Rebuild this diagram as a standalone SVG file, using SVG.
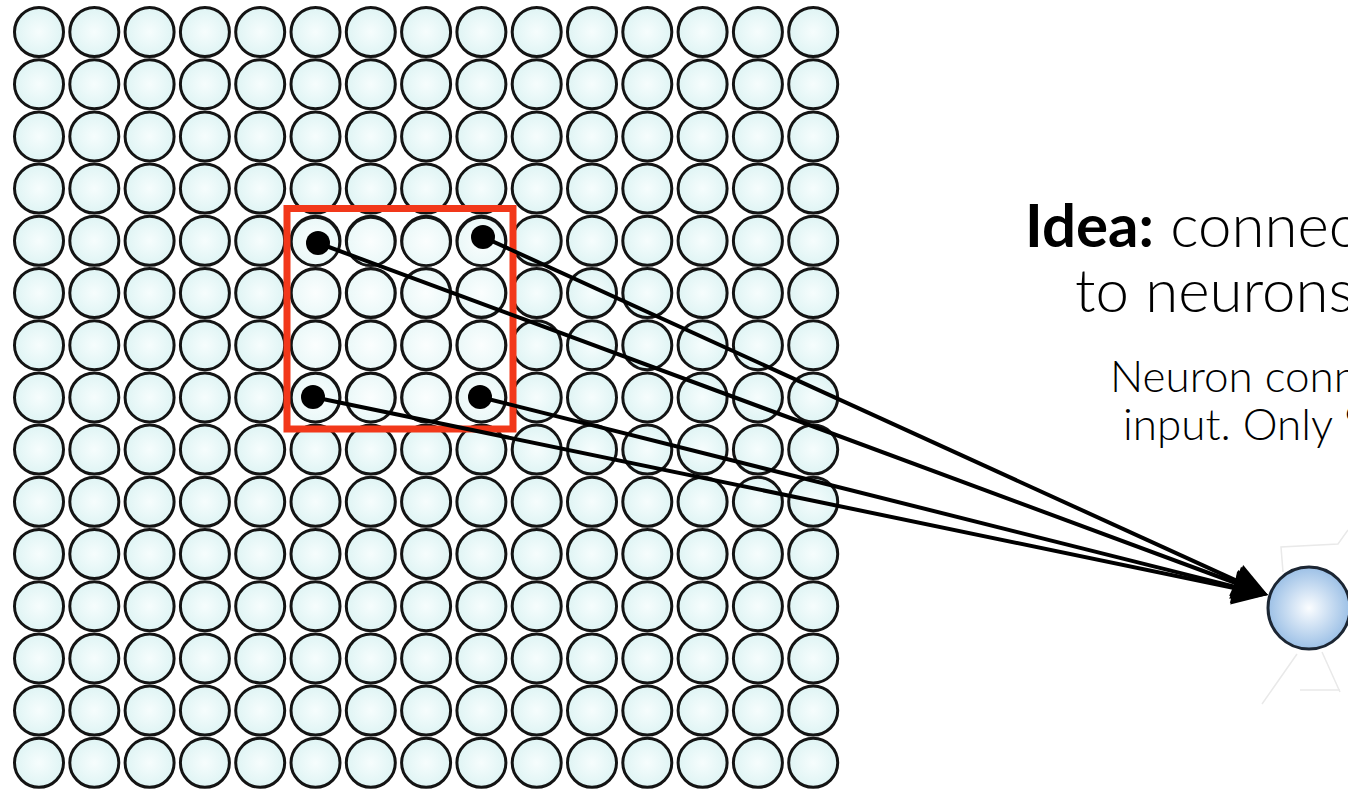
<svg xmlns="http://www.w3.org/2000/svg" xmlns:xlink="http://www.w3.org/1999/xlink" width="1348" height="793" viewBox="0 0 1348 793">
<style>
.cell{fill:url(#cellGrad);stroke:#141414;stroke-width:3}
.inner{fill:url(#innerGrad);stroke:#141414;stroke-width:2.4}
.dot{fill:#000}
.conn{stroke:#000;stroke-width:4;fill:none;marker-end:url(#arrow)}
.big{font-family:Lato,"Open Sans","Liberation Sans",sans-serif;font-size:60px;font-weight:300;fill:#000}
.small{font-family:Lato,"Open Sans","Liberation Sans",sans-serif;font-size:44px;font-weight:300;fill:#000}
.faint{fill:none;stroke:#e9e9e9;stroke-width:1.5}
</style>
<defs>
<radialGradient id="cellGrad" cx="0.5" cy="0.5" r="0.5">
<stop offset="0" stop-color="#f6fdfd"/>
<stop offset="1" stop-color="#dff4f4"/>
</radialGradient>
<radialGradient id="innerGrad" cx="0.5" cy="0.5" r="0.5">
<stop offset="0" stop-color="#fbfefe"/>
<stop offset="1" stop-color="#eaf8f8"/>
</radialGradient>
<radialGradient id="neuronGrad" cx="0.5" cy="0.5" r="0.5">
<stop offset="0" stop-color="#fbfdff"/>
<stop offset="1" stop-color="#9cc0e6"/>
</radialGradient>
<marker id="arrow" markerUnits="userSpaceOnUse" markerWidth="36" markerHeight="36" refX="25" refY="17" orient="auto" overflow="visible">
<path d="M0,0 L35,17 L0,34 Z" fill="#000"/>
</marker>
<g id="row">
<circle class="cell" cx="39" cy="0" r="24.5"/>
<circle class="cell" cx="94.3" cy="0" r="24.5"/>
<circle class="cell" cx="149.6" cy="0" r="24.5"/>
<circle class="cell" cx="204.9" cy="0" r="24.5"/>
<circle class="cell" cx="260.2" cy="0" r="24.5"/>
<circle class="cell" cx="315.5" cy="0" r="24.5"/>
<circle class="cell" cx="370.8" cy="0" r="24.5"/>
<circle class="cell" cx="426.1" cy="0" r="24.5"/>
<circle class="cell" cx="481.4" cy="0" r="24.5"/>
<circle class="cell" cx="536.7" cy="0" r="24.5"/>
<circle class="cell" cx="592" cy="0" r="24.5"/>
<circle class="cell" cx="647.3" cy="0" r="24.5"/>
<circle class="cell" cx="702.6" cy="0" r="24.5"/>
<circle class="cell" cx="757.9" cy="0" r="24.5"/>
<circle class="cell" cx="813.2" cy="0" r="24.5"/>
</g>
<g id="innerRow">
<circle class="inner" cx="315.5" cy="0" r="24"/>
<circle class="inner" cx="370.8" cy="0" r="24"/>
<circle class="inner" cx="426.1" cy="0" r="24"/>
<circle class="inner" cx="481.4" cy="0" r="24"/>
</g>
</defs>
<rect width="1348" height="793" fill="#fff"/>
<g id="input-grid">
<use xlink:href="#row" href="#row" y="32"/>
<use xlink:href="#row" href="#row" y="84.2"/>
<use xlink:href="#row" href="#row" y="136.4"/>
<use xlink:href="#row" href="#row" y="188.6"/>
<use xlink:href="#row" href="#row" y="240.8"/>
<use xlink:href="#row" href="#row" y="293"/>
<use xlink:href="#row" href="#row" y="345.2"/>
<use xlink:href="#row" href="#row" y="397.4"/>
<use xlink:href="#row" href="#row" y="449.6"/>
<use xlink:href="#row" href="#row" y="501.8"/>
<use xlink:href="#row" href="#row" y="554"/>
<use xlink:href="#row" href="#row" y="606.2"/>
<use xlink:href="#row" href="#row" y="658.4"/>
<use xlink:href="#row" href="#row" y="710.6"/>
<use xlink:href="#row" href="#row" y="762.8"/>
</g>
<g id="receptive-field">
<use xlink:href="#innerRow" href="#innerRow" y="241.5"/>
<use xlink:href="#innerRow" href="#innerRow" y="293"/>
<use xlink:href="#innerRow" href="#innerRow" y="345.2"/>
<use xlink:href="#innerRow" href="#innerRow" y="397.6"/>
<rect x="287" y="208.5" width="226" height="220.5" fill="none" stroke="#f2381a" stroke-width="7"/>
</g>
<g id="output-neuron">
<path class="faint" d="M1283,572 L1281,547 L1338,544 L1348,530"/>
<path class="faint" d="M1262,704 L1297,654 M1322,652 L1340,692 M1300,690 L1340,690"/>
<circle cx="1309" cy="608" r="41" fill="url(#neuronGrad)" stroke="#1c2633" stroke-width="3"/>
</g>
<g id="connectors">
<line class="conn" x1="483" y1="237" x2="1258.9" y2="590.9"/>
<line class="conn" x1="318" y1="243" x2="1258.6" y2="591.5"/>
<line class="conn" x1="480" y1="397" x2="1258.3" y2="592.6"/>
<line class="conn" x1="313" y1="397" x2="1258.2" y2="593"/>
</g>
<g id="dots">
<circle class="dot" cx="318" cy="243" r="12"/>
<circle class="dot" cx="483" cy="237" r="12"/>
<circle class="dot" cx="313" cy="397" r="12"/>
<circle class="dot" cx="480" cy="397" r="12"/>
</g>
<g id="caption">
<text class="big" x="1025" y="247"><tspan font-weight="700">Idea:</tspan> connec</text>
<text class="big" x="1075" y="312">to neurons</text>
<text class="small" x="1110" y="392">Neuron conn</text>
<text class="small" x="1123" y="440">input. Only “</text>
</g>
</svg>
